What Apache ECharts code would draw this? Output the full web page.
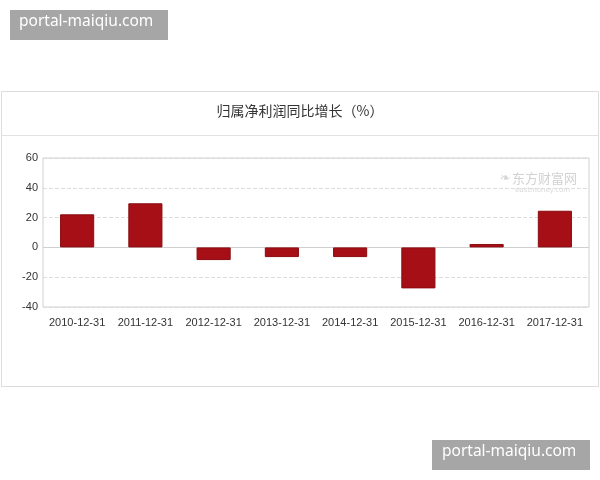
<!DOCTYPE html>
<html><head><meta charset="utf-8">
<script src="https://cdn.jsdelivr.net/npm/echarts@6/dist/echarts.min.js"></script>
<style>html,body{margin:0;padding:0;background:#fff}#c{width:600px;height:480px}</style>
</head><body><div id="c"></div>
<script>
const categories = ['2010-12-31','2011-12-31','2012-12-31','2013-12-31','2014-12-31','2015-12-31','2016-12-31','2017-12-31'];
const growth = [22.2, 29.6, -8.5, -6.5, -6.5, -27.5, 2.3, 24.6];
const yTicks = {min: -40, max: 60, interval: 20};

const chart = echarts.init(document.getElementById('c'), null, {renderer: 'canvas'});
chart.setOption({
  backgroundColor: '#fff',
  animation: false,
  title: {
    text: '归属净利润同比增长（%）', left: 'center', top: 99,
    textStyle: {fontSize: 14, fontWeight: 'normal', color: '#333', fontFamily: 'Noto Sans CJK SC'}
  },
  graphic: [
    {type: 'rect', shape: {x: 1.5, y: 91.5, width: 597, height: 295}, style: {fill: 'none', stroke: '#dcdcdc', lineWidth: 1}, z: -1},
    {type: 'line', shape: {x1: 1.5, y1: 135.5, x2: 598.5, y2: 135.5}, style: {stroke: '#e2e2e2', lineWidth: 1}},
    {type: 'text', left: 512, top: 172, style: {text: '东方财富网', fill: '#d2d2d2', font: '13px "Noto Sans CJK SC"'}},
    {type: 'text', left: 500, top: 172, style: {text: '❧', fill: '#d6d6d6', font: '13px "DejaVu Sans"'}},
    {type: 'text', left: 515, top: 187, style: {text: 'eastmoney.com', fill: '#d8d8d8', font: '7px "DejaVu Sans"'}},
    {type: 'rect', shape: {x: 10, y: 10, width: 158, height: 30}, style: {fill: '#a6a6a6'}, z: 10},
    {type: 'text', left: 19, top: 14, style: {text: 'portal-maiqiu.com', fill: '#fff', font: '15.5px "Noto Sans"'}, z: 11},
    {type: 'rect', shape: {x: 432, y: 440, width: 158, height: 30}, style: {fill: '#a6a6a6'}, z: 10},
    {type: 'text', left: 442, top: 444, style: {text: 'portal-maiqiu.com', fill: '#fff', font: '15.5px "Noto Sans"'}, z: 11}
  ],
  grid: {left: 43, right: 11, top: 158, bottom: 173, show: true, borderColor: '#d0d0d0', borderWidth: 1},
  xAxis: {
    type: 'category', data: categories,
    axisLine: {show: false}, axisTick: {show: false},
    axisLabel: {color: '#333', fontSize: 11, margin: 10, interval: 0, fontFamily: 'Arial'}
  },
  yAxis: {
    type: 'value', min: yTicks.min, max: yTicks.max, interval: yTicks.interval,
    axisLine: {show: false}, axisTick: {show: false},
    axisLabel: {color: '#333', fontSize: 11, margin: 5, fontFamily: 'Arial'},
    splitLine: {show: true, lineStyle: {type: 'dashed', color: '#dcdcdc'}}
  },
  series: [{
    type: 'bar', data: growth, barWidth: '50%',
    itemStyle: {color: '#a50f15', borderColor: '#8a0c10', borderWidth: 1},
    markLine: {
      silent: true, symbol: 'none', label: {show: false},
      lineStyle: {type: 'solid', color: '#cfcfcf', width: 1},
      data: [{yAxis: 0}], z: 1
    }
  }]
});
</script></body></html>
